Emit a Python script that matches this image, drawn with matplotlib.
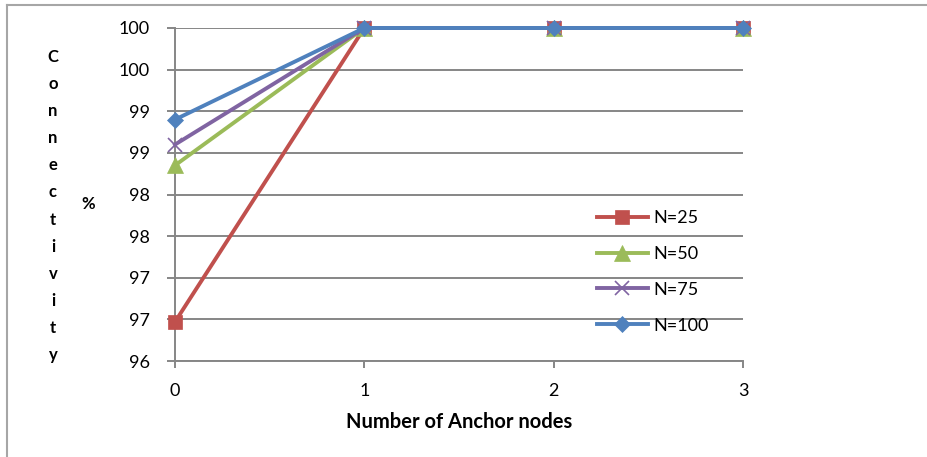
import math
import matplotlib
matplotlib.use("Agg")
import matplotlib.pyplot as plt
from matplotlib.lines import Line2D
from matplotlib.ticker import FuncFormatter, MultipleLocator

plt.rcParams["font.family"] = ["Lato", "DejaVu Sans"]

anchors = [0, 1, 2, 3]
series_labels = ["N=25", "N=50", "N=75", "N=100"]
connectivity = {
    "N=25": [96.47, 100, 100, 100],
    "N=50": [98.35, 100, 100, 100],
    "N=75": [98.6, 100, 100, 100],
    "N=100": [98.9, 100, 100, 100],
}
colors = {"N=25": "#C0504D", "N=50": "#9BBB59", "N=75": "#8064A2", "N=100": "#4F81BD"}
markers = {"N=25": ("s", 10), "N=50": ("^", 11), "N=75": ("x", 10), "N=100": ("D", 8)}

GRID = "#868686"

fig = plt.figure(figsize=(9.28, 4.57), dpi=100)
ax = fig.add_axes([175 / 928, 1 - 361 / 457, (743 - 175) / 928, (361 - 28) / 457])

for name in series_labels:
    m, ms = markers[name]
    ax.plot(anchors, connectivity[name], color=colors[name], lw=2.8,
            marker=m, markersize=ms, markeredgewidth=1.2 if m == "x" else 0.5,
            markeredgecolor=colors[name], label=name, clip_on=False, zorder=3)

ax.set_xlim(0, 3)
ax.set_ylim(96, 100)
ax.xaxis.set_major_locator(MultipleLocator(1))
ax.yaxis.set_major_locator(MultipleLocator(0.5))
# whole-number labels, rounded half up
ax.yaxis.set_major_formatter(FuncFormatter(lambda v, p: f"{int(math.floor(v + 0.5))}"))

ax.grid(axis="y", color=GRID, lw=1.4)
ax.set_axisbelow(True)
for side in ("top", "right"):
    ax.spines[side].set_visible(False)
for side in ("left", "bottom"):
    ax.spines[side].set_color(GRID)
    ax.spines[side].set_linewidth(1.4)
ax.tick_params(axis="y", length=6, width=1.4, color=GRID, labelsize=13, pad=12)
ax.tick_params(axis="x", length=5, width=1.4, color=GRID, labelsize=13, pad=11)

ax.set_xlabel("Number of Anchor nodes", fontsize=14.5, fontweight="bold", labelpad=9)

fig.text(53 / 928, 1 - 206 / 457, "\n".join("Connectivity"), ha="center", va="center",
         fontsize=12, fontweight="bold", linespacing=1.86)
fig.text(88 / 928, 1 - 204 / 457, "%", ha="center", va="center",
         fontsize=12, fontweight="bold")

ax.legend(loc="upper left", bbox_to_anchor=(588 / 928, 1 - 201 / 457),
          bbox_transform=fig.transFigure, frameon=False, fontsize=13,
          handlelength=2.8, handletextpad=0.3, labelspacing=1.1, borderpad=0)

# chart-area border
fig.add_artist(Line2D([7 / 928, 7 / 928], [0, 1 - 5 / 457], color="#A6A6A6", lw=1.5))
fig.add_artist(Line2D([7 / 928, 1], [1 - 5 / 457, 1 - 5 / 457], color="#A6A6A6", lw=1.5))

fig.savefig("out.png", dpi=100)
